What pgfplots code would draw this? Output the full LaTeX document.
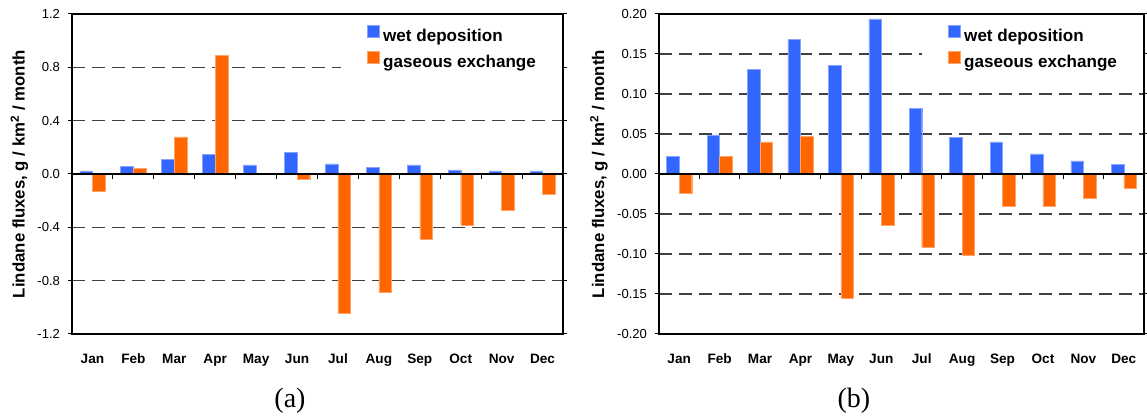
\documentclass[border=0pt]{standalone}
\usepackage{pgfplots}
\pgfplotsset{compat=1.18}
\usepackage{fontspec}
\setmainfont{Liberation Sans}
\newfontfamily\serifcap{Liberation Serif}
\definecolor{wetblue}{HTML}{3366FF}
\definecolor{gasorange}{HTML}{FF6600}
\definecolor{gridgray}{HTML}{404040}

\pgfplotsset{
  panel/.style={
    scale only axis, height=240pt,
    xmin=-0.5, xmax=11.5,
    xtick={0,...,11},
    xticklabels={Jan,Feb,Mar,Apr,May,Jun,Jul,Aug,Sep,Oct,Nov,Dec},
    x tick style={draw=none},
    xticklabel style={font=\bfseries\fontsize{10.2}{11}\selectfont, anchor=base, yshift=-19pt},
    ytick style={black, line width=0.75pt},
    major tick length=3pt,
    tick align=outside,
    yticklabel style={font=\fontsize{9.8}{10}\selectfont, xshift=-2.5pt},
    axis line style={black, line width=0.8pt},
    ymajorgrids,
    major grid style={gridgray, line width=0.85pt, dash pattern=on 10pt off 5pt},
    ylabel={Lindane fluxes, g / km\textsuperscript{2} / month},
    ylabel style={font=\bfseries\fontsize{12.6}{14}\selectfont, anchor=center},
    xlabel style={font=\serifcap\fontsize{21}{24}\selectfont, anchor=center},
    legend style={draw=none, fill=white, at={(1,1)}, anchor=north east,
      xshift=-0.6pt, yshift=-0.6pt,
      inner xsep=19.5pt, inner ysep=7.5pt, row sep=4.5pt,
      font=\bfseries\fontsize{12.8}{14}\selectfont,
      nodes={inner sep=0pt, text height=9pt, text depth=3pt},
      /tikz/every odd column/.append style={column sep=3pt}},
    legend cell align=left,
    legend image code/.code={\fill[##1] (0pt,0pt) rectangle (9pt,9pt);},
  },
  wetbar/.style={ybar, bar width=0.31, bar shift=-0.155, fill=wetblue, draw=wetblue!60!white, line width=0.3pt},
  gasbar/.style={ybar, bar width=0.31, bar shift=0.155, fill=gasorange, draw=gasorange!60!white, line width=0.3pt},
}

\begin{document}
\begin{tikzpicture}
\useasboundingbox (0,0) rectangle (860.25pt,312pt);
% ---------- (a) ----------
\begin{axis}[panel, at={(54pt,61.5pt)}, anchor=south west, width=368.25pt,
  ymin=-1.2, ymax=1.2,
  ytick={-1.2,-0.8,-0.4,0,0.4,0.8,1.2},
  yticklabels={-1.2,-0.8,-0.4,0.0,0.4,0.8,1.2},
  ylabel style={at={(axis description cs:-0.107,0.5)}},
  xlabel={(a)},
  xlabel style={at={(axis description cs:0.444,-0.209)}},
]
\addplot[wetbar] coordinates {(0,0.0225) (1,0.0575) (2,0.1075) (3,0.1475) (4,0.0675) (5,0.1625) (6,0.075) (7,0.05) (8,0.0675) (9,0.03) (10,0.0225) (11,0.0225)};
\addlegendentry{wet deposition}
\addplot[gasbar] coordinates {(0,-0.1275) (1,0.04) (2,0.2775) (3,0.8875) (4,0) (5,-0.0425) (6,-1.045) (7,-0.8875) (8,-0.4875) (9,-0.3825) (10,-0.27) (11,-0.1525)};
\addlegendentry{gaseous exchange}
\draw[black, line width=1pt] (axis cs:-0.5,0) -- (axis cs:11.5,0);
\pgfplotsinvokeforeach{0.5,1.5,2.5,3.5,4.5,5.5,6.5,7.5,8.5,9.5,10.5}{
  \draw[black, line width=0.75pt] (axis cs:#1,0) -- ++(0pt,-3.5pt);
}
\end{axis}
% ---------- (b) ----------
\begin{axis}[panel, at={(494.25pt,61.5pt)}, anchor=south west, width=363.75pt,
  ymin=-0.2, ymax=0.2,
  ytick={-0.2,-0.15,-0.1,-0.05,0,0.05,0.1,0.15,0.2},
  yticklabels={-0.20,-0.15,-0.10,-0.05,0.00,0.05,0.10,0.15,0.20},
  ylabel style={at={(axis description cs:-0.124,0.5)}},
  xlabel={(b)},
  xlabel style={at={(axis description cs:0.402,-0.209)}},
]
\addplot[wetbar] coordinates {(0,0.0217) (1,0.049) (2,0.131) (3,0.168) (4,0.136) (5,0.194) (6,0.0817) (7,0.0458) (8,0.04) (9,0.025) (10,0.0163) (11,0.0117)};
\addlegendentry{wet deposition}
\addplot[gasbar] coordinates {(0,-0.0238) (1,0.0217) (2,0.04) (3,0.0467) (4,-0.1555) (5,-0.0646) (6,-0.092) (7,-0.1017) (8,-0.0404) (9,-0.0404) (10,-0.0304) (11,-0.0175)};
\addlegendentry{gaseous exchange}
\draw[black, line width=1pt] (axis cs:-0.5,0) -- (axis cs:11.5,0);
\pgfplotsinvokeforeach{0.5,1.5,2.5,3.5,4.5,5.5,6.5,7.5,8.5,9.5,10.5}{
  \draw[black, line width=0.75pt] (axis cs:#1,0) -- ++(0pt,-3.5pt);
}
\end{axis}
\end{tikzpicture}
\end{document}
